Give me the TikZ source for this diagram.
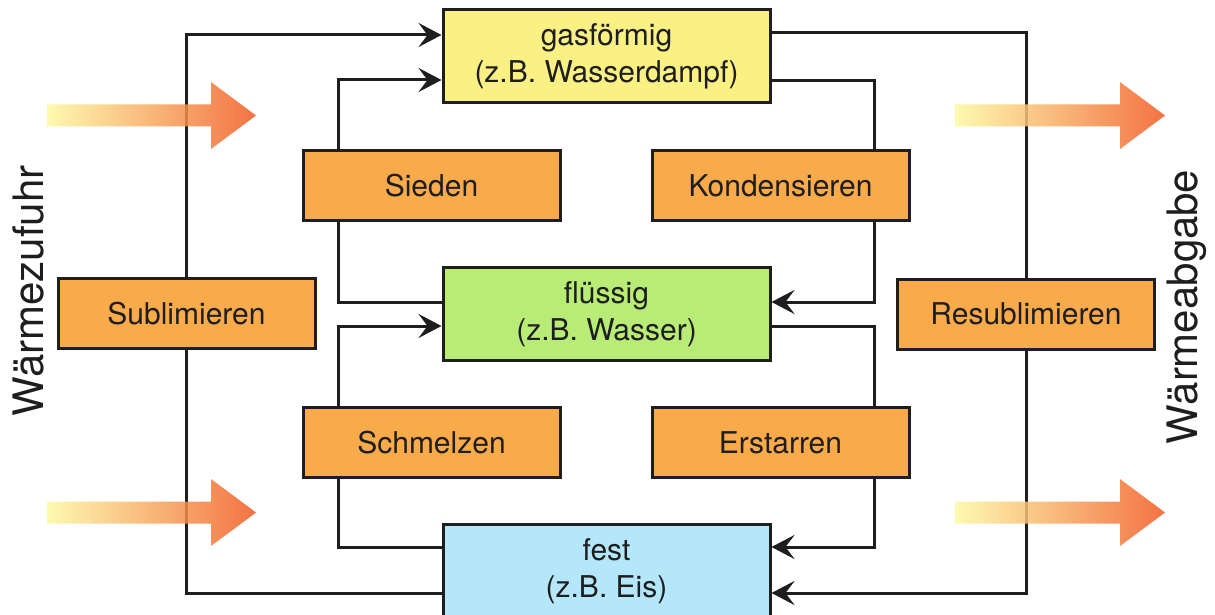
\documentclass[tikz,border=0pt]{standalone}
\usepackage{fontspec}
\setmainfont{TeX Gyre Heros}
\usetikzlibrary{arrows.meta}
\pgfdeclarelayer{background}
\pgfsetlayers{background,main}

\definecolor{gasfill}{HTML}{FAF084}
\definecolor{liqfill}{HTML}{B8EC77}
\definecolor{solfill}{HTML}{B3E7F9}
\definecolor{procfill}{HTML}{F9AA4B}
\definecolor{ink}{HTML}{1E1E1E}
\definecolor{heatlow}{HTML}{FDF9A2}
\definecolor{heatmid}{HTML}{F9C262}
\definecolor{heathigh}{HTML}{F15A22}

\tikzset{
  statebox/.style={draw=ink, line width=3pt, minimum width=327pt, minimum height=93pt,
    inner sep=0pt, align=center, font=\fontsize{30}{37}\selectfont, text=ink},
  procbox/.style={draw=ink, line width=3pt, fill=procfill, minimum width=257pt,
    minimum height=70pt, inner sep=0pt, font=\fontsize{30}{36}\selectfont, text=ink},
  flow/.style={draw=ink, line width=3pt},
  flowto/.style={flow, -{Stealth[length=23pt,width=24pt,inset=9pt]}},
  sidelabel/.style={rotate=90, anchor=base, font=\fontsize{42}{50}\selectfont,
    text=ink, inner sep=0pt},
  heat/.style={left color=heatlow, middle color=heatmid, right color=heathigh, opacity=0.85},
}

% broad shaded arrow: start x, tip x, centre y
\newcommand\heatarrow[3]{%
  \shade[heat] (#1,#3-11) -- (#2-45,#3-11) -- (#2-45,#3-33.5) -- (#2,#3)
    -- (#2-45,#3+33.5) -- (#2-45,#3+11) -- (#1,#3+11) -- cycle;}

\begin{document}
\begin{tikzpicture}[x=1pt,y=-1pt]
\useasboundingbox (0,0) rectangle (1215,615);

% states of matter
\node[statebox, fill=gasfill] (gas)  at (606.5,56.5) {gasförmig\\(z.B. Wasserdampf)};
\node[statebox, fill=liqfill] (fl)   at (606.5,314)  {flüssig\\(z.B. Wasser)};
\node[statebox, fill=solfill] (fest) at (606.5,571)  {fest\\(z.B. Eis)};

% phase transitions
\node[procbox] (sieden) at (431.5,185.5) {Sieden};
\node[procbox] (kond)   at (780.5,185.5) {Kondensieren};
\node[procbox] (schm)   at (431.5,442.5) {Schmelzen};
\node[procbox] (erst)   at (780.5,442.5) {Erstarren};
\node[procbox] (subl)   at (186.5,313.5) {Sublimieren};
\node[procbox] (resub)  at (1026,314)    {Resublimieren};

% heat direction labels
\node[sidelabel] (zufuhr)  at (43,291)   {Wärmezufuhr};
\node[sidelabel] (abgabe)  at (1197,307) {Wärmeabgabe};

\begin{pgfonlayer}{background}
  % Sublimieren: fest -> gasförmig
  \draw[flow]   ([yshift=-22pt]fest.west) -| (subl.south);
  \draw[flowto] (subl.north) |- ([yshift=21.5pt]gas.west);
  % Sieden: flüssig -> gasförmig
  \draw[flow]   ([yshift=12pt]fl.west) -| ([xshift=-93.5pt]sieden.south);
  \draw[flowto] ([xshift=-93.5pt]sieden.north) |- ([yshift=-23.5pt]gas.west);
  % Kondensieren: gasförmig -> flüssig
  \draw[flow]   ([yshift=-24.5pt]gas.east) -| ([xshift=93.5pt]kond.north);
  \draw[flowto] ([xshift=93.5pt]kond.south) |- ([yshift=12pt]fl.east);
  % Resublimieren: gasförmig -> fest
  \draw[flow]   ([yshift=23.5pt]gas.east) -| (resub.north);
  \draw[flowto] (resub.south) |- ([yshift=-22pt]fest.east);
  % Schmelzen: fest -> flüssig
  \draw[flow]   ([yshift=24pt]fest.west) -| ([xshift=-93.5pt]schm.south);
  \draw[flowto] ([xshift=-93.5pt]schm.north) |- ([yshift=-12pt]fl.west);
  % Erstarren: flüssig -> fest
  \draw[flow]   ([yshift=-12pt]fl.east) -| ([xshift=93.5pt]erst.north);
  \draw[flowto] ([xshift=93.5pt]erst.south) |- ([yshift=24pt]fest.east);
\end{pgfonlayer}

% heat arrows
\heatarrow{47}{256}{115.5}
\heatarrow{47}{256}{512.5}
\heatarrow{955}{1165}{115.5}
\heatarrow{955}{1165}{512.5}
\end{tikzpicture}
\end{document}
